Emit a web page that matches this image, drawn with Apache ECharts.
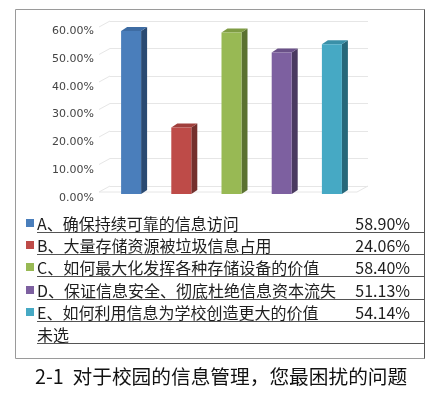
<!DOCTYPE html>
<html><head><meta charset="utf-8">
<script src="https://cdn.jsdelivr.net/npm/echarts@6/dist/echarts.min.js"></script>
<style>html,body{margin:0;padding:0;background:#fff}#c{width:438px;height:397px}</style>
</head><body><div id="c"></div>
<script>
const categories = ['A', 'B', 'C', 'D', 'E'];
const rowLabels = ['A、确保持续可靠的信息访问', 'B、大量存储资源被垃圾信息占用', 'C、如何最大化发挥各种存储设备的价值', 'D、保证信息安全、彻底杜绝信息资本流失', 'E、如何利用信息为学校创造更大的价值', '未选'];
const values = [58.90, 24.06, 58.40, 51.13, 54.14];
const yTicks = [0, 10, 20, 30, 40, 50, 60];
const titleText = '2-1  对于校园的信息管理，您最困扰的问题';

const frontColors = ['#4a7ebb', '#be4b48', '#98b954', '#7d60a0', '#46a9c4'];
const sideColors = ['#2a4a72', '#74302d', '#5b7230', '#4a3a60', '#27687a'];
const topColors = ['#3e6ca3', '#a03f3c', '#7f9c44', '#6a5188', '#3a90a8'];
const CJK = '"Noto Sans CJK SC", "Noto Sans", sans-serif';

const chart = echarts.init(document.getElementById('c'));

const graphics = [];
graphics.push({type: 'rect', shape: {x: 15.5, y: 9.5, width: 409, height: 349}, style: {fill: 'none', stroke: '#9a9a9a', lineWidth: 1}, z: 0});
graphics.push({type: 'line', shape: {x1: 424.5, y1: 9.5, x2: 424.5, y2: 358.5}, style: {stroke: '#555', lineWidth: 1}});
for (let i = 0; i < rowLabels.length; i++) {
  const lineY = Math.round(232 + 22.2 * i) + 0.5;
  const textY = lineY - 8.5;
  graphics.push({type: 'text', x: 37, y: textY, style: {text: rowLabels[i], font: '16px ' + CJK, fill: '#1e1e1e', verticalAlign: 'middle', align: 'left'}});
  graphics.push({type: 'line', shape: {x1: 37, y1: lineY, x2: 424, y2: lineY}, style: {stroke: '#555', lineWidth: 1}});
  if (i < values.length) {
    graphics.push({type: 'rect', shape: {x: 26, y: textY - 5, width: 8, height: 8}, style: {fill: frontColors[i]}});
    graphics.push({type: 'text', x: 410, y: textY, style: {text: values[i].toFixed(2) + '%', font: '16px ' + CJK, fill: '#1e1e1e', verticalAlign: 'middle', align: 'right'}});
  }
}
graphics.push({type: 'text', x: 35, y: 377, style: {text: titleText, font: '19.7px ' + CJK, fill: '#111', verticalAlign: 'middle', align: 'left'}});

chart.setOption({
  animation: false,
  backgroundColor: '#fff',
  grid: [
    {left: 106, width: 251, top: 28, height: 166},
    {left: 110, width: 258, top: 21, height: 165},
    {left: 106, width: 251, top: 31, height: 167}
  ],
  xAxis: [
    {type: 'category', gridIndex: 0, data: categories, show: false},
    {type: 'category', gridIndex: 1, data: categories, show: false},
    {type: 'category', gridIndex: 2, data: categories, show: false}
  ],
  yAxis: [
    {type: 'value', gridIndex: 0, min: 0, max: 60, interval: 10, show: false},
    {type: 'value', gridIndex: 1, min: 0, max: 60, interval: 10, splitLine: {show: true, lineStyle: {color: '#e6e6e6'}}, axisLine: {show: false}, axisTick: {show: false}, axisLabel: {show: false}},
    {type: 'value', gridIndex: 2, min: 0, max: 60, interval: 10, splitLine: {show: false}, axisLine: {show: false}, axisTick: {show: false},
      axisLabel: {formatter: v => v.toFixed(2) + '%', color: '#444', fontSize: 11, fontFamily: 'DejaVu Sans', margin: 12}}
  ],
  graphic: graphics,
  series: [
    {
      type: 'custom', xAxisIndex: 1, yAxisIndex: 1, silent: true, z: 1,
      data: yTicks.map(t => [0, t]),
      renderItem(params, api) {
        const cs = params.coordSys;
        const p = api.coord([api.value(0), api.value(1)]);
        const children = [{type: 'line', shape: {x1: cs.x, y1: p[1], x2: cs.x - 11, y2: p[1] + 6}, style: {stroke: '#e6e6e6', lineWidth: 1}}];
        if (api.value(1) === 0) {
          children.push({type: 'line', shape: {x1: cs.x - 11, y1: p[1] + 6, x2: cs.x + cs.width - 11, y2: p[1] + 6}, style: {stroke: '#e6e6e6', lineWidth: 1}});
          children.push({type: 'line', shape: {x1: cs.x + cs.width - 11, y1: p[1] + 6, x2: cs.x + cs.width, y2: p[1]}, style: {stroke: '#e6e6e6', lineWidth: 1}});
        }
        return {type: 'group', children};
      }
    },
    {
      type: 'custom', xAxisIndex: 0, yAxisIndex: 0, silent: true, z: 2,
      data: values.map((v, i) => [i, v]),
      renderItem(params, api) {
        const i = params.dataIndex;
        const top = api.coord([api.value(0), api.value(1)]);
        const base = api.coord([api.value(0), 0]);
        const w = 20, dx = 6, dy = 4;
        const x0 = top[0] - w / 2, x1 = top[0] + w / 2;
        return {type: 'group', children: [
          {type: 'polygon', shape: {points: [[x1, top[1]], [x1 + dx, top[1] - dy], [x1 + dx, base[1] - dy], [x1, base[1]]]}, style: {fill: sideColors[i]}},
          {type: 'polygon', shape: {points: [[x0, top[1]], [x0 + dx, top[1] - dy], [x1 + dx, top[1] - dy], [x1, top[1]]]}, style: {fill: topColors[i]}},
          {type: 'rect', shape: {x: x0, y: top[1], width: w, height: base[1] - top[1]}, style: {fill: frontColors[i]}}
        ]};
      }
    }
  ]
});
</script></body></html>
